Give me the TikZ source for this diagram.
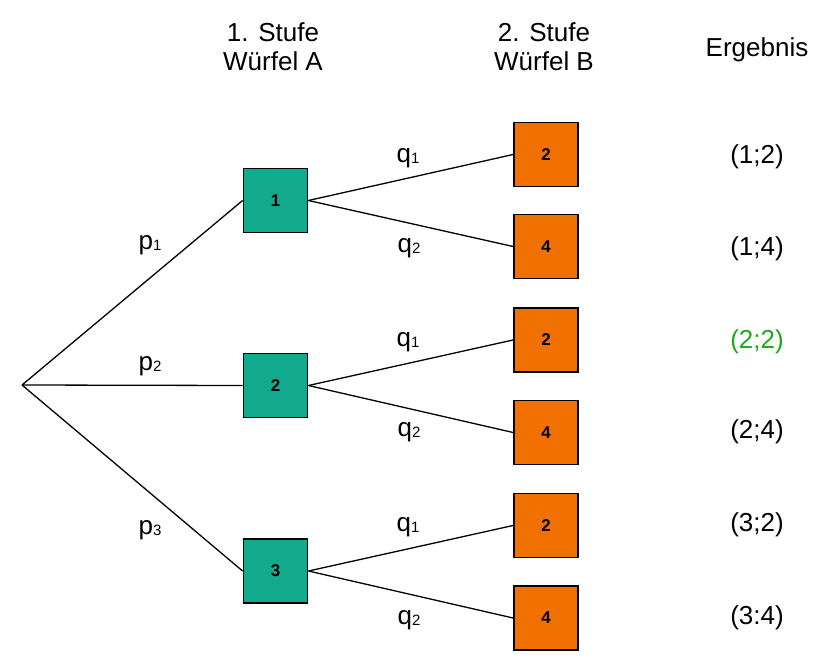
\documentclass[tikz,border=0pt]{standalone}
\usepackage{fontspec}
\setmainfont{Liberation Sans}
\definecolor{boxgreen}{RGB}{18,170,140}
\definecolor{boxorange}{RGB}{240,112,0}
\definecolor{resgreen}{RGB}{30,170,30}
\newcommand{\sbs}[1]{\raisebox{-1.5pt}{\fontsize{15}{18}\selectfont #1}}
\begin{document}
\begin{tikzpicture}[x=1pt,y=-1pt,
  abox/.style={draw=black,line width=1.8pt,fill=boxgreen,minimum size=64pt,inner sep=0pt,font=\fontsize{17}{20}\selectfont\bfseries},
  bbox/.style={draw=black,line width=1.8pt,fill=boxorange,minimum size=64pt,inner sep=0pt,font=\fontsize{17}{20}\selectfont\bfseries},
  lbl/.style={font=\fontsize{26}{30}\selectfont,inner sep=0pt},
  edge/.style={line width=1.3pt}]
\useasboundingbox (0,0) rectangle (823,661);
\coordinate (r) at (22,385);
\node[abox] (a1) at (275.5,200.5) {1};
\node[abox] (a2) at (275.5,385.5) {2};
\node[abox] (a3) at (275.5,571) {3};
\node[bbox] (b1) at (546,154.5) {2};
\node[bbox] (b2) at (546,246.5) {4};
\node[bbox] (b3) at (546,340) {2};
\node[bbox] (b4) at (546,432.5) {4};
\node[bbox] (b5) at (546,525.5) {2};
\node[bbox] (b6) at (546,618) {4};
\draw[edge] (r) -- (a1.west);
\draw[edge] (r) -- (a2.west);
\draw[edge] (r) -- (a3.west);
\draw[edge] (a1.east) -- (b1.west);
\draw[edge] (a1.east) -- (b2.west);
\draw[edge] (a2.east) -- (b3.west);
\draw[edge] (a2.east) -- (b4.west);
\draw[edge] (a3.east) -- (b5.west);
\draw[edge] (a3.east) -- (b6.west);
\node[lbl] (p1) at (150,245) {p\sbs{1}};
\node[lbl] (p2) at (150,366) {p\sbs{2}};
\node[lbl] (p3) at (150,530) {p\sbs{3}};
\node[lbl] (q1) at (408,158) {q\sbs{1}};
\node[lbl] (q2) at (409,248) {q\sbs{2}};
\node[lbl] (q3) at (408,342) {q\sbs{1}};
\node[lbl] (q4) at (409,432) {q\sbs{2}};
\node[lbl] (q5) at (408,527) {q\sbs{1}};
\node[lbl] (q6) at (409,620) {q\sbs{2}};
\node[lbl,align=center] (h1) at (273,47) {1. Stufe\\[-1pt]Würfel A};
\node[lbl,align=center] (h2) at (544,47) {2. Stufe\\[-1pt]Würfel B};
\node[lbl] (h3) at (757,50) {Ergebnis};
\node[lbl] (e1) at (757,157) {(1;2)};
\node[lbl] (e2) at (757,249) {(1;4)};
\node[lbl,text=resgreen] (e3) at (757,342) {(2;2)};
\node[lbl] (e4) at (757,432) {(2;4)};
\node[lbl] (e5) at (757,525) {(3;2)};
\node[lbl] (e6) at (757,618) {(3:4)};
\end{tikzpicture}
\end{document}
